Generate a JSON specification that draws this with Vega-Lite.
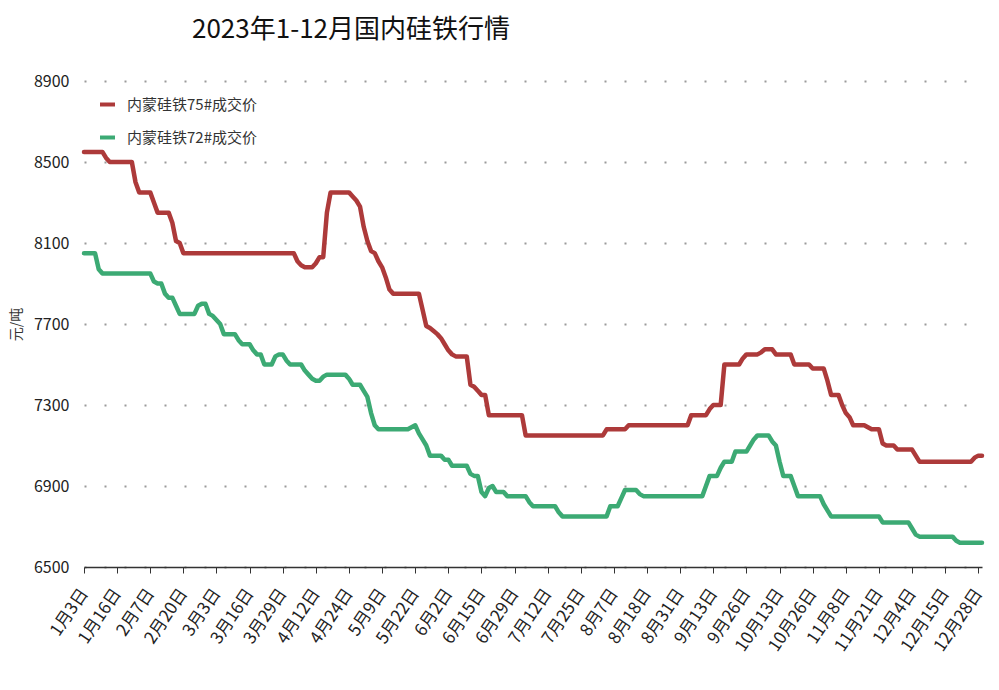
{
"$schema": "https://vega.github.io/schema/vega-lite/v6.json",
"width": 898,
"height": 486,
"autosize": {"type": "none"},
"padding": {"left": 84, "top": 81, "right": 17, "bottom": 123},
"background": "white",
"config": {"font": "Noto Sans CJK SC", "view": {"stroke": null}},
"title": {"text": "2023年1-12月国内硅铁行情", "anchor": "start", "frame": "group", "dx": 108, "offset": 30, "fontSize": 26, "fontWeight": "normal", "color": "#111"},
"data": {"values": [
{"d":"1月3日","r":8550,"g":8050},{"d":"1月4日","r":8550,"g":8050},{"d":"1月5日","r":8550,"g":8050},{"d":"1月6日","r":8550,"g":8050},{"d":"1月9日","r":8550,"g":7970},{"d":"1月10日","r":8550,"g":7950},{"d":"1月11日","r":8520,"g":7950},{"d":"1月12日","r":8500,"g":7950},{"d":"1月13日","r":8500,"g":7950},{"d":"1月16日","r":8500,"g":7950},
{"d":"1月17日","r":8500,"g":7950},{"d":"1月18日","r":8500,"g":7950},{"d":"1月30日","r":8500,"g":7950},{"d":"1月31日","r":8500,"g":7950},{"d":"2月1日","r":8400,"g":7950},{"d":"2月2日","r":8350,"g":7950},{"d":"2月3日","r":8350,"g":7950},{"d":"2月6日","r":8350,"g":7950},{"d":"2月7日","r":8350,"g":7950},{"d":"2月8日","r":8300,"g":7910},
{"d":"2月9日","r":8250,"g":7900},{"d":"2月10日","r":8250,"g":7900},{"d":"2月13日","r":8250,"g":7850},{"d":"2月14日","r":8250,"g":7830},{"d":"2月15日","r":8200,"g":7830},{"d":"2月16日","r":8110,"g":7790},{"d":"2月17日","r":8100,"g":7750},{"d":"2月20日","r":8050,"g":7750},{"d":"2月21日","r":8050,"g":7750},{"d":"2月22日","r":8050,"g":7750},
{"d":"2月23日","r":8050,"g":7750},{"d":"2月24日","r":8050,"g":7790},{"d":"2月27日","r":8050,"g":7800},{"d":"2月28日","r":8050,"g":7800},{"d":"3月1日","r":8050,"g":7750},{"d":"3月2日","r":8050,"g":7740},{"d":"3月3日","r":8050,"g":7720},{"d":"3月6日","r":8050,"g":7700},{"d":"3月7日","r":8050,"g":7650},{"d":"3月8日","r":8050,"g":7650},
{"d":"3月9日","r":8050,"g":7650},{"d":"3月10日","r":8050,"g":7650},{"d":"3月13日","r":8050,"g":7620},{"d":"3月14日","r":8050,"g":7600},{"d":"3月15日","r":8050,"g":7600},{"d":"3月16日","r":8050,"g":7600},{"d":"3月17日","r":8050,"g":7570},{"d":"3月20日","r":8050,"g":7550},{"d":"3月21日","r":8050,"g":7550},{"d":"3月22日","r":8050,"g":7500},
{"d":"3月23日","r":8050,"g":7500},{"d":"3月24日","r":8050,"g":7500},{"d":"3月27日","r":8050,"g":7540},{"d":"3月28日","r":8050,"g":7550},{"d":"3月29日","r":8050,"g":7550},{"d":"3月30日","r":8050,"g":7520},{"d":"3月31日","r":8050,"g":7500},{"d":"4月3日","r":8050,"g":7500},{"d":"4月4日","r":8010,"g":7500},{"d":"4月6日","r":7990,"g":7500},
{"d":"4月7日","r":7980,"g":7470},{"d":"4月10日","r":7980,"g":7450},{"d":"4月11日","r":7980,"g":7430},{"d":"4月12日","r":8000,"g":7420},{"d":"4月13日","r":8030,"g":7420},{"d":"4月14日","r":8030,"g":7440},{"d":"4月17日","r":8250,"g":7450},{"d":"4月18日","r":8350,"g":7450},{"d":"4月19日","r":8350,"g":7450},{"d":"4月20日","r":8350,"g":7450},
{"d":"4月21日","r":8350,"g":7450},{"d":"4月23日","r":8350,"g":7450},{"d":"4月24日","r":8350,"g":7430},{"d":"4月25日","r":8330,"g":7400},{"d":"4月26日","r":8310,"g":7400},{"d":"4月27日","r":8280,"g":7400},{"d":"4月28日","r":8180,"g":7370},{"d":"5月4日","r":8110,"g":7340},{"d":"5月5日","r":8060,"g":7260},{"d":"5月6日","r":8050,"g":7200},
{"d":"5月8日","r":8010,"g":7180},{"d":"5月9日","r":7980,"g":7180},{"d":"5月10日","r":7930,"g":7180},{"d":"5月11日","r":7870,"g":7180},{"d":"5月12日","r":7850,"g":7180},{"d":"5月15日","r":7850,"g":7180},{"d":"5月16日","r":7850,"g":7180},{"d":"5月17日","r":7850,"g":7180},{"d":"5月18日","r":7850,"g":7180},{"d":"5月19日","r":7850,"g":7190},
{"d":"5月22日","r":7850,"g":7200},{"d":"5月23日","r":7850,"g":7160},{"d":"5月24日","r":7770,"g":7130},{"d":"5月25日","r":7690,"g":7100},{"d":"5月26日","r":7680,"g":7050},{"d":"5月29日","r":7665,"g":7050},{"d":"5月30日","r":7650,"g":7050},{"d":"5月31日","r":7630,"g":7050},{"d":"6月1日","r":7600,"g":7030},{"d":"6月2日","r":7570,"g":7030},
{"d":"6月5日","r":7550,"g":7000},{"d":"6月6日","r":7540,"g":7000},{"d":"6月7日","r":7540,"g":7000},{"d":"6月8日","r":7540,"g":7000},{"d":"6月9日","r":7540,"g":7000},{"d":"6月12日","r":7400,"g":6960},{"d":"6月13日","r":7390,"g":6950},{"d":"6月14日","r":7370,"g":6950},{"d":"6月15日","r":7350,"g":6870},{"d":"6月16日","r":7350,"g":6850},
{"d":"6月19日","r":7250,"g":6890},{"d":"6月20日","r":7250,"g":6900},{"d":"6月21日","r":7250,"g":6870},{"d":"6月25日","r":7250,"g":6870},{"d":"6月26日","r":7250,"g":6870},{"d":"6月27日","r":7250,"g":6850},{"d":"6月28日","r":7250,"g":6850},{"d":"6月29日","r":7250,"g":6850},{"d":"6月30日","r":7250,"g":6850},{"d":"7月3日","r":7250,"g":6850},
{"d":"7月4日","r":7150,"g":6850},{"d":"7月5日","r":7150,"g":6820},{"d":"7月6日","r":7150,"g":6800},{"d":"7月7日","r":7150,"g":6800},{"d":"7月10日","r":7150,"g":6800},{"d":"7月11日","r":7150,"g":6800},{"d":"7月12日","r":7150,"g":6800},{"d":"7月13日","r":7150,"g":6800},{"d":"7月14日","r":7150,"g":6800},{"d":"7月17日","r":7150,"g":6770},
{"d":"7月18日","r":7150,"g":6750},{"d":"7月19日","r":7150,"g":6750},{"d":"7月20日","r":7150,"g":6750},{"d":"7月21日","r":7150,"g":6750},{"d":"7月24日","r":7150,"g":6750},{"d":"7月25日","r":7150,"g":6750},{"d":"7月26日","r":7150,"g":6750},{"d":"7月27日","r":7150,"g":6750},{"d":"7月28日","r":7150,"g":6750},{"d":"7月31日","r":7150,"g":6750},
{"d":"8月1日","r":7150,"g":6750},{"d":"8月2日","r":7150,"g":6750},{"d":"8月3日","r":7180,"g":6750},{"d":"8月4日","r":7180,"g":6800},{"d":"8月7日","r":7180,"g":6800},{"d":"8月8日","r":7180,"g":6800},{"d":"8月9日","r":7180,"g":6840},{"d":"8月10日","r":7180,"g":6880},{"d":"8月11日","r":7200,"g":6880},{"d":"8月14日","r":7200,"g":6880},
{"d":"8月15日","r":7200,"g":6880},{"d":"8月16日","r":7200,"g":6860},{"d":"8月17日","r":7200,"g":6850},{"d":"8月18日","r":7200,"g":6850},{"d":"8月21日","r":7200,"g":6850},{"d":"8月22日","r":7200,"g":6850},{"d":"8月23日","r":7200,"g":6850},{"d":"8月24日","r":7200,"g":6850},{"d":"8月25日","r":7200,"g":6850},{"d":"8月28日","r":7200,"g":6850},
{"d":"8月29日","r":7200,"g":6850},{"d":"8月30日","r":7200,"g":6850},{"d":"8月31日","r":7200,"g":6850},{"d":"9月1日","r":7200,"g":6850},{"d":"9月4日","r":7200,"g":6850},{"d":"9月5日","r":7250,"g":6850},{"d":"9月6日","r":7250,"g":6850},{"d":"9月7日","r":7250,"g":6850},{"d":"9月8日","r":7250,"g":6850},{"d":"9月11日","r":7250,"g":6900},
{"d":"9月12日","r":7280,"g":6950},{"d":"9月13日","r":7300,"g":6950},{"d":"9月14日","r":7300,"g":6950},{"d":"9月15日","r":7300,"g":6990},{"d":"9月18日","r":7500,"g":7020},{"d":"9月19日","r":7500,"g":7020},{"d":"9月20日","r":7500,"g":7020},{"d":"9月21日","r":7500,"g":7070},{"d":"9月22日","r":7500,"g":7070},{"d":"9月25日","r":7530,"g":7070},
{"d":"9月26日","r":7550,"g":7070},{"d":"9月27日","r":7550,"g":7100},{"d":"9月28日","r":7550,"g":7130},{"d":"10月7日","r":7550,"g":7150},{"d":"10月8日","r":7560,"g":7150},{"d":"10月9日","r":7575,"g":7150},{"d":"10月10日","r":7575,"g":7150},{"d":"10月11日","r":7575,"g":7120},{"d":"10月12日","r":7550,"g":7100},{"d":"10月13日","r":7550,"g":7020},
{"d":"10月16日","r":7550,"g":6950},{"d":"10月17日","r":7550,"g":6950},{"d":"10月18日","r":7550,"g":6950},{"d":"10月19日","r":7500,"g":6900},{"d":"10月20日","r":7500,"g":6850},{"d":"10月23日","r":7500,"g":6850},{"d":"10月24日","r":7500,"g":6850},{"d":"10月25日","r":7500,"g":6850},{"d":"10月26日","r":7480,"g":6850},{"d":"10月27日","r":7480,"g":6850},
{"d":"10月30日","r":7480,"g":6850},{"d":"10月31日","r":7480,"g":6810},{"d":"11月1日","r":7420,"g":6780},{"d":"11月2日","r":7350,"g":6750},{"d":"11月3日","r":7350,"g":6750},{"d":"11月6日","r":7350,"g":6750},{"d":"11月7日","r":7300,"g":6750},{"d":"11月8日","r":7260,"g":6750},{"d":"11月9日","r":7240,"g":6750},{"d":"11月10日","r":7200,"g":6750},
{"d":"11月13日","r":7200,"g":6750},{"d":"11月14日","r":7200,"g":6750},{"d":"11月15日","r":7200,"g":6750},{"d":"11月16日","r":7190,"g":6750},{"d":"11月17日","r":7180,"g":6750},{"d":"11月20日","r":7180,"g":6750},{"d":"11月21日","r":7180,"g":6750},{"d":"11月22日","r":7110,"g":6720},{"d":"11月23日","r":7100,"g":6720},{"d":"11月24日","r":7100,"g":6720},
{"d":"11月27日","r":7100,"g":6720},{"d":"11月28日","r":7080,"g":6720},{"d":"11月29日","r":7080,"g":6720},{"d":"11月30日","r":7080,"g":6720},{"d":"12月1日","r":7080,"g":6720},{"d":"12月4日","r":7080,"g":6690},{"d":"12月5日","r":7050,"g":6660},{"d":"12月6日","r":7020,"g":6650},{"d":"12月7日","r":7020,"g":6650},{"d":"12月8日","r":7020,"g":6650},
{"d":"12月11日","r":7020,"g":6650},{"d":"12月12日","r":7020,"g":6650},{"d":"12月13日","r":7020,"g":6650},{"d":"12月14日","r":7020,"g":6650},{"d":"12月15日","r":7020,"g":6650},{"d":"12月18日","r":7020,"g":6650},{"d":"12月19日","r":7020,"g":6650},{"d":"12月20日","r":7020,"g":6630},{"d":"12月21日","r":7020,"g":6620},{"d":"12月22日","r":7020,"g":6620},
{"d":"12月25日","r":7020,"g":6620},{"d":"12月26日","r":7020,"g":6620},{"d":"12月27日","r":7040,"g":6620},{"d":"12月28日","r":7050,"g":6620},{"d":"12月29日","r":7050,"g":6620}
]},
"encoding": {
  "x": {"field": "d", "type": "ordinal", "sort": null, "scale": {"type": "point", "padding": 0},
    "axis": {"values": ["1月3日","1月16日","2月7日","2月20日","3月3日","3月16日","3月29日","4月12日","4月24日","5月9日","5月22日","6月2日","6月15日","6月29日","7月12日","7月25日","8月7日","8月18日","8月31日","9月13日","9月26日","10月13日","10月26日","11月8日","11月21日","12月4日","12月15日","12月28日"],
      "title": null, "labelAngle": -56, "labelAlign": "right", "labelBaseline": "middle", "labelFontSize": 17, "labelColor": "#222", "labelPadding": 17,
      "domainColor": "#333", "domainWidth": 1.5, "tickColor": "#333", "tickSize": 6, "tickWidth": 1, "grid": false}}
},
"layer": [
  {"mark": {"type": "line", "strokeWidth": 4.5, "strokeJoin": "round", "strokeCap": "round"},
   "encoding": {
     "y": {"field": "r", "type": "quantitative", "title": "元/吨",
       "scale": {"domain": [6500, 8900], "zero": false, "nice": false},
       "axis": {"values": [6500, 6900, 7300, 7700, 8100, 8500, 8900], "format": "d", "titleFontSize": 14, "titleFontWeight": "normal", "titleColor": "#333", "titlePadding": 10,
         "labelFontSize": 16, "labelColor": "#222", "labelPadding": 15, "ticks": false, "domain": false,
         "grid": true, "gridDash": [2, 18], "gridColor": "#9a9a9a", "gridWidth": 2}},
     "color": {"datum": "内蒙硅铁75#成交价",
       "scale": {"domain": ["内蒙硅铁75#成交价", "内蒙硅铁72#成交价"], "range": ["#ad3a3a", "#3caa74"]},
       "legend": {"title": null, "orient": "top-left", "offset": 14, "padding": 0, "symbolType": "stroke", "symbolStrokeWidth": 4, "symbolSize": 225,
         "labelFontSize": 15, "labelColor": "#333", "labelOffset": 10, "rowPadding": 15}}
   }},
  {"mark": {"type": "line", "strokeWidth": 4.5, "strokeJoin": "round", "strokeCap": "round"},
   "encoding": {
     "y": {"field": "g", "type": "quantitative", "title": "元/吨"},
     "color": {"datum": "内蒙硅铁72#成交价"}
   }}
]
}
